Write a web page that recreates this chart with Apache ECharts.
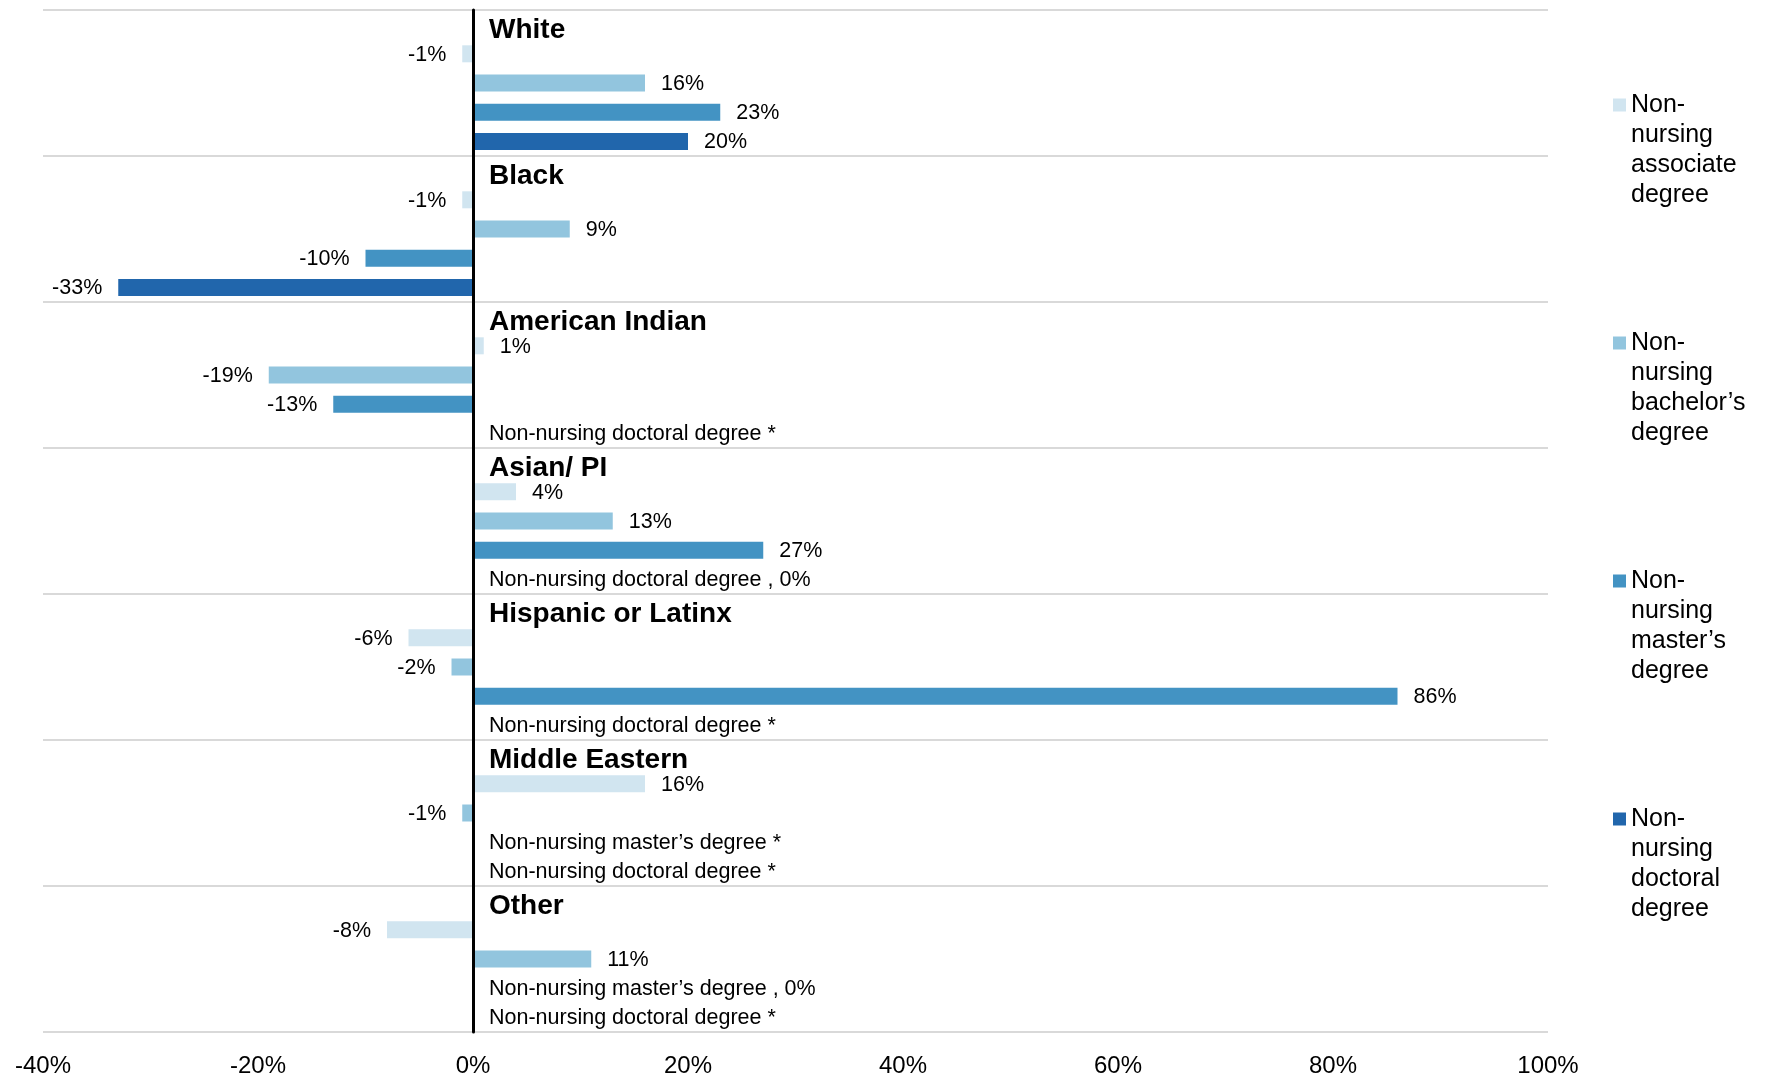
<!DOCTYPE html>
<html>
<head>
<meta charset="utf-8">
<script src="https://cdn.jsdelivr.net/npm/echarts@6/dist/echarts.min.js"></script>
<style>
html,body{margin:0;padding:0;background:#fff;}
#chart{width:1767px;height:1078px;}
</style>
</head>
<body>
<div id="chart"></div>
<script>
// ---- data ----
const groups = ['White', 'Black', 'American Indian', 'Asian/ PI', 'Hispanic or Latinx', 'Middle Eastern', 'Other'];
const degreeNames = ['Non-nursing associate degree', 'Non-nursing bachelor\u2019s degree', 'Non-nursing master\u2019s degree', 'Non-nursing doctoral degree'];
// null = not reported (*)
const associate = [-1, -1, 1, 4, -6, 16, -8];
const bachelor  = [16, 9, -19, 13, -2, -1, 11];
const master    = [23, -10, -13, 27, 86, null, 0];
const doctoral  = [20, -33, null, 0, null, null, null];
const xMin = -40, xMax = 100, xStep = 20;
const colors = ['#D1E5F0', '#92C5DE', '#4393C3', '#2166AC'];

// ---- build ----
const ROWS = 5; // title + 4 degrees
const categories = [];
groups.forEach(g => { for (let r = 0; r < ROWS; r++) categories.push(g + '|' + r); });
const FONT = '"Liberation Sans", Arial, sans-serif';

function degreeSeries(name, values, row, color) {
  const data = new Array(categories.length).fill('-');
  values.forEach((v, gi) => {
    const idx = gi * ROWS + row;
    if (v === null) data[idx] = { value: 0, label: { position: 'right', formatter: name + ' *' } };
    else if (v === 0) data[idx] = { value: 0, label: { position: 'right', formatter: name + ' , 0%' } };
    else data[idx] = { value: v, label: { position: v < 0 ? 'left' : 'right' } };
  });
  return {
    type: 'bar', name: name, data: data, barWidth: 17, barGap: '-100%',
    itemStyle: { color: color },
    label: { show: true, formatter: p => p.value + '%', distance: 16, fontSize: 21.5, color: '#000', fontFamily: FONT, offset: [0, 1] },
    emphasis: { disabled: true }, animation: false
  };
}

const titleData = new Array(categories.length).fill('-');
groups.forEach((g, gi) => { titleData[gi * ROWS] = { value: 0, name: g }; });

const series = [
  degreeSeries(degreeNames[0], associate, 1, colors[0]),
  degreeSeries(degreeNames[1], bachelor, 2, colors[1]),
  degreeSeries(degreeNames[2], master, 3, colors[2]),
  degreeSeries(degreeNames[3], doctoral, 4, colors[3]),
  {
    type: 'bar', name: 'groupTitle', data: titleData, barWidth: 17, barGap: '-100%',
    itemStyle: { color: 'rgba(0,0,0,0)' },
    label: { show: true, position: 'right', distance: 16, offset: [0, 6],
      formatter: p => groups[Math.floor(p.dataIndex / ROWS)],
      fontSize: 28, fontWeight: 'bold', color: '#000', fontFamily: FONT },
    emphasis: { disabled: true }, animation: false
  }
];

const chart = echarts.init(document.getElementById('chart'), null, { renderer: 'canvas' });
chart.setOption({
  animation: false,
  backgroundColor: '#fff',
  color: colors,
  textStyle: { fontFamily: FONT },
  grid: { left: 43, right: 219, top: 10, bottom: 46, containLabel: false },
  legend: {
    data: degreeNames,
    orient: 'vertical',
    left: 1613, top: 0, padding: 0,
    itemWidth: 13, itemHeight: 13, itemGap: 28,
    icon: 'rect',
    selectedMode: false,
    formatter: n => '\n\n\n' + n.replace('Non-nursing ', 'Non-\nnursing\n').replace(' degree', '\ndegree'),
    textStyle: { fontSize: 25, lineHeight: 30, color: '#000', fontFamily: FONT }
  },
  xAxis: {
    type: 'value', min: xMin, max: xMax, interval: xStep,
    axisLine: { show: false }, axisTick: { show: false }, splitLine: { show: false },
    axisLabel: { formatter: '{value}%', fontSize: 24, color: '#000', margin: 22, fontFamily: FONT }
  },
  yAxis: [
    {
      type: 'category', data: categories, inverse: true, z: 5,
      axisLine: { show: true, onZero: true, lineStyle: { color: '#000', width: 3 } },
      axisTick: { show: false }, axisLabel: { show: false }, splitLine: { show: false }
    },
    {
      type: 'category', data: groups, inverse: true, boundaryGap: true,
      axisLine: { show: false }, axisTick: { show: false }, axisLabel: { show: false },
      splitLine: { show: true, interval: 0, lineStyle: { color: '#D9D9D9', width: 2 } }
    }
  ],
  series: series
});
</script>
</body>
</html>
